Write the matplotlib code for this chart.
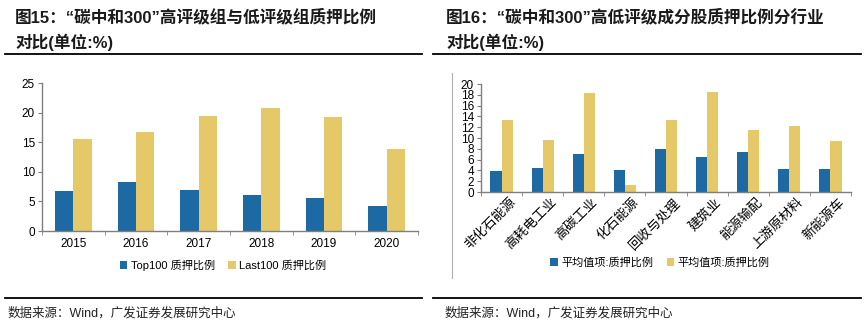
import matplotlib.pyplot as plt
import matplotlib.lines as mlines
import matplotlib.transforms as mtransforms
import numpy as np

plt.rcParams['font.family'] = ['Liberation Sans', 'Noto Sans CJK SC', 'DejaVu Sans']

# 图15 数据
years = ['2015', '2016', '2017', '2018', '2019', '2020']
top100 = [6.7, 8.3, 7.0, 6.1, 5.5, 4.3]
last100 = [15.5, 16.8, 19.5, 20.7, 19.2, 13.8]

# 图16 数据
industries = ['非化石能源', '高耗电工业', '高碳工业', '化石能源', '回收与处理',
              '建筑业', '能源输配', '上游原材料', '新能源车']
high_grade = [3.85, 4.4, 7.0, 4.15, 7.9, 6.4, 7.35, 4.2, 4.35]
low_grade = [13.35, 9.55, 18.4, 1.35, 13.3, 18.5, 11.5, 12.2, 9.4]

BLUE = '#1c69a4'
YELLOW = '#e5c867'
AXIS = '#7f7f7f'

W, H = 866, 331
fig = plt.figure(figsize=(W / 100, H / 100), dpi=100)


def px(x, y):
    return x / W, 1 - y / H


def add_ax(x0, y0, x1, y1):
    return fig.add_axes([x0 / W, 1 - y1 / H, (x1 - x0) / W, (y1 - y0) / H])


def style_axes(ax, n):
    for s in ['top', 'right']:
        ax.spines[s].set_visible(False)
    for s in ['left', 'bottom']:
        ax.spines[s].set_color(AXIS)
        ax.spines[s].set_linewidth(1.0)
    ax.set_xlim(-0.5, n - 0.5)
    ax.set_xticks(np.arange(n + 1) - 0.5, minor=True)
    ax.tick_params(axis='x', which='major', length=0)
    ax.tick_params(axis='x', which='minor', length=3, color=AXIS, direction='out')
    ax.tick_params(axis='y', length=3, color=AXIS, direction='out', labelsize=8.5, pad=2)


# 标题与分隔线
for x0, num, line1 in [(15, '15', '“碳中和300”高评级组与低评级组质押比例'),
                       (446, '16', '“碳中和300”高低评级成分股质押比例分行业')]:
    fig.text(*px(x0, 17), f'图{num}：' + line1, fontsize=12, fontweight='bold',
             va='center', ha='left', color='#1a1a1a')
    fig.text(*px(x0, 42), '对比(单位:%)', fontsize=12, fontweight='bold',
             va='center', ha='left', color='#1a1a1a')

for x0, x1 in [(5, 422), (433, 861)]:
    fig.add_artist(mlines.Line2D([x0 / W, x1 / W], [1 - 54 / H] * 2, color='black', lw=1.3))
    fig.add_artist(mlines.Line2D([x0 / W, x1 / W], [1 - 298 / H] * 2, color='black', lw=1.3))

for x0 in [8, 445]:
    fig.text(*px(x0, 313), '数据来源：Wind，广发证券发展研究中心', fontsize=9,
             va='center', ha='left', color='#222222')

# 左图：Top100 vs Last100
ax1 = add_ax(42, 83, 418, 231)
x = np.arange(len(years))
bw = 0.29
ax1.bar(x - bw / 2, top100, bw, color=BLUE, label='Top100 质押比例')
ax1.bar(x + bw / 2, last100, bw, color=YELLOW, label='Last100 质押比例')
style_axes(ax1, len(years))
ax1.set_ylim(0, 25)
ax1.set_yticks(range(0, 26, 5))
ax1.set_xticks(x)
ax1.set_xticklabels(years, fontsize=8.5)
ax1.tick_params(axis='x', which='major', pad=5)
ax1.legend(loc='center', bbox_to_anchor=(px(223, 265)), bbox_transform=fig.transFigure,
           ncol=2, frameon=False, fontsize=8, handlelength=0.7, handleheight=0.7,
           handletextpad=0.3, columnspacing=1.2)

# 右图：分行业
fig.add_artist(mlines.Line2D([452 / W] * 2, [1 - 73 / H, 1 - 278 / H], color='#b0b0b0', lw=0.8))
ax2 = add_ax(481, 84, 851, 192)
x2 = np.arange(len(industries))
bw2 = 0.27
ax2.bar(x2 - bw2 / 2, high_grade, bw2, color=BLUE, label='平均值项:质押比例')
ax2.bar(x2 + bw2 / 2, low_grade, bw2, color=YELLOW, label='平均值项:质押比例')
style_axes(ax2, len(industries))
ax2.set_ylim(0, 20)
ax2.set_yticks(range(0, 21, 2))
ax2.set_xticks(x2)
ax2.set_xticklabels(industries, fontsize=9.5, rotation=45, ha='right', rotation_mode='anchor')
ax2.tick_params(axis='x', which='major', pad=3)
shift = mtransforms.ScaledTranslation(8 / 100, 0, fig.dpi_scale_trans)
for lab in ax2.get_xticklabels():
    lab.set_transform(lab.get_transform() + shift)
ax2.legend(loc='center', bbox_to_anchor=(px(660, 263)), bbox_transform=fig.transFigure,
           ncol=2, frameon=False, fontsize=8, handlelength=0.7, handleheight=0.7,
           handletextpad=0.3, columnspacing=1.2)

fig.savefig('out.png', dpi=100)
